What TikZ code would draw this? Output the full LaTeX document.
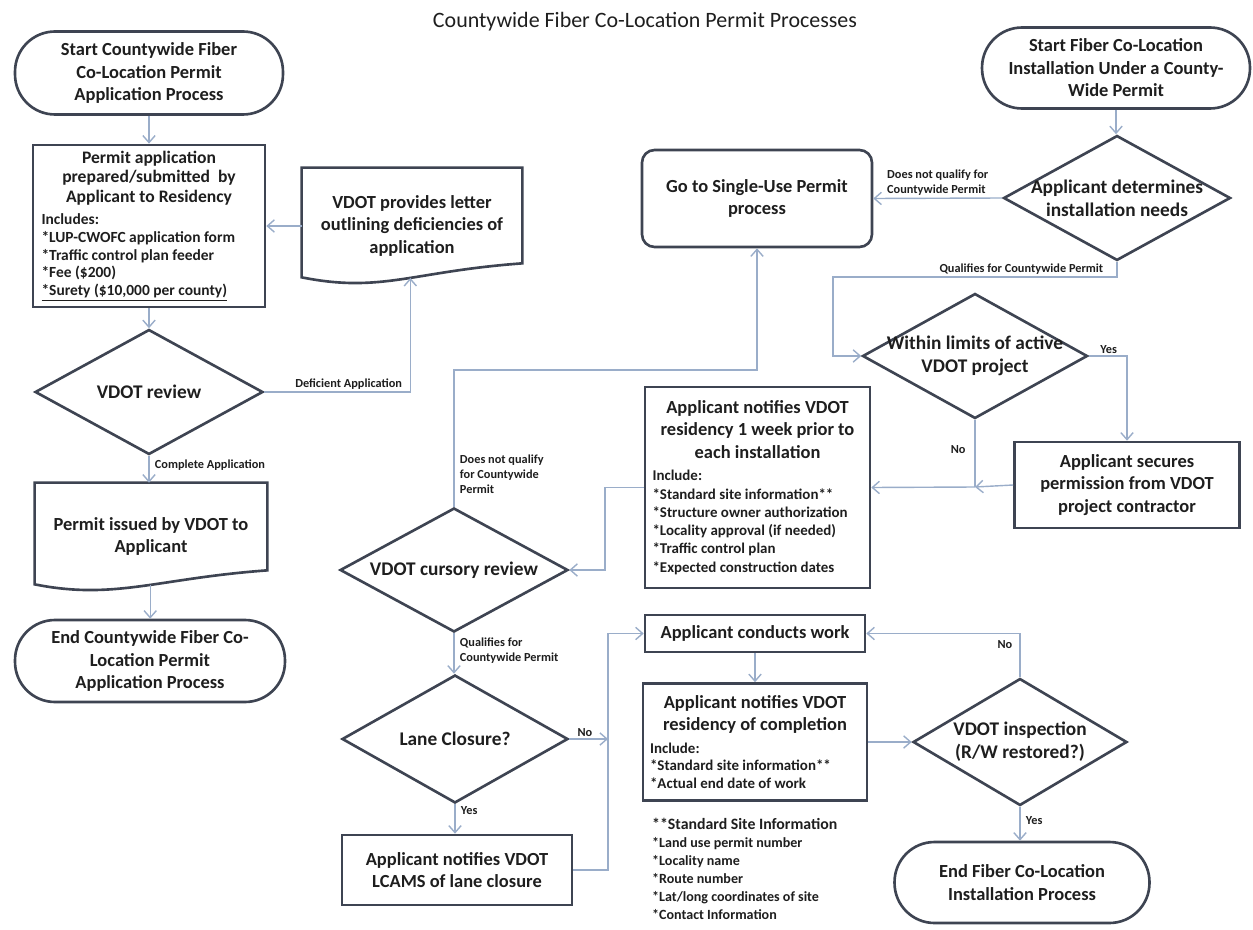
\documentclass[tikz,border=0pt]{standalone}
\usepackage{fontspec}
\setmainfont{Carlito}
\usepackage{tikz}
\usepackage{xcolor}
\usetikzlibrary{shapes.geometric,arrows.meta}

\definecolor{shapeline}{HTML}{3E4452}
\definecolor{linkline}{HTML}{9AADC9}
\definecolor{inktext}{HTML}{1E1E1E}

\newcommand{\docwave}[1]{%
  \draw[shapeline,line width=1.5pt] (#1.north west) -- (#1.north east)
    -- ([yshift=0.4cm]#1.south east)
    .. controls +(-110,8) and +(80,16) .. ([yshift=0.12cm]#1.south west)
    coordinate[pos=0.45] (#1w) -- cycle;}

\begin{document}
\begin{tikzpicture}[x=0.02cm,y=-0.02cm]
\tikzstyle{every node}+=[text=inktext]
\tikzstyle{term}=[draw=shapeline,line width=1.5pt,rounded corners=0.8cm,align=center,font=\bfseries\fontsize{10.5}{12.8}\selectfont]
\tikzstyle{procbox}=[draw=shapeline,line width=1.5pt,align=center,font=\bfseries\fontsize{10.5}{12.8}\selectfont]
\tikzstyle{listbox}=[procbox,align=flush center]
\tikzstyle{docbox}=[align=center,inner sep=0pt,font=\bfseries\fontsize{10.5}{12.8}\selectfont]
\tikzstyle{decision}=[diamond,draw=shapeline,line width=1.5pt,inner sep=0pt]
\tikzstyle{dectext}=[align=center,font=\bfseries\fontsize{11}{13.2}\selectfont]
\tikzstyle{link}=[draw=linkline,line width=0.8pt]
\tikzstyle{flow}=[link,-{Straight Barb[length=4pt,width=7pt]}]
\tikzstyle{lbl}=[font=\bfseries\fontsize{7}{8.5}\selectfont,inner sep=1pt]

\useasboundingbox (0,0) rectangle (1253,929);

\node[font=\fontsize{12.5}{15}\selectfont] (title) at (645,22) {Countywide Fiber Co-Location Permit Processes};

\node[term,minimum width=5.36cm,minimum height=1.66cm] (startapp) at (149,73) {Start Countywide Fiber\\Co-Location Permit\\Application Process};
\node[listbox,minimum width=4.64cm,minimum height=3.2cm,text width=4.3cm] (apply) at (149,226) {\spaceskip=0pt\xspaceskip=0pt\fontsize{10}{11.2}\selectfont Permit application\\prepared/submitted~~by\\Applicant to Residency\\ \parbox[t]{4.3cm}{\fontsize{8.8}{10}\selectfont\raggedright Includes:\\{*}LUP-CWOFC application form\\{*}Traffic control plan feeder\\{*}Fee (\$200)\\\underline{*Surety (\$10,000 per county)}}};
\node[docbox,minimum width=4.4cm,minimum height=2.3cm] (letter) at (412,225.5) {VDOT provides letter\\outlining deficiencies of\\application};
\docwave{letter}
\node[decision,minimum width=4.56cm,minimum height=2.5cm,label={[dectext]center:VDOT review}] (review) at (149,392) {};
\node[docbox,minimum width=4.64cm,minimum height=2.14cm] (issued) at (151,536.5) {Permit issued by VDOT to\\Applicant};
\docwave{issued}
\node[term,minimum width=5.4cm,minimum height=1.64cm] (endapp) at (150,661) {End Countywide Fiber Co-\\Location Permit\\Application Process};

\node[term,minimum width=5.36cm,minimum height=1.62cm] (startinst) at (1116,68) {Start Fiber Co-Location\\Installation Under a County-\\Wide Permit};
\node[decision,minimum width=4.54cm,minimum height=2.5cm,label={[dectext]center:{Applicant determines\\installation needs}}] (needs) at (1117,198) {};
\node[procbox,rounded corners=0.25cm,minimum width=4.6cm,minimum height=1.94cm] (single) at (757,198.5) {Go to Single-Use Permit\\process};
\node[decision,minimum width=4.5cm,minimum height=2.5cm,label={[dectext]center:{Within limits of active\\VDOT project}}] (limits) at (975,356) {};
\node[procbox,minimum width=4.5cm,minimum height=1.72cm] (secure) at (1127,485) {Applicant secures\\permission from VDOT\\project contractor};
\node[listbox,minimum width=4.5cm,minimum height=4.02cm,text width=4.2cm] (notify) at (757.5,487.5) {\spaceskip=0pt\xspaceskip=0pt Applicant notifies VDOT\\residency 1 week prior to\\each installation\\ \parbox[t]{4.2cm}{\fontsize{8.5}{10.4}\selectfont\raggedright Include:\\{*}Standard site information**\\{*}Structure owner authorization\\{*}Locality approval (if needed)\\{*}Traffic control plan\\{*}Expected construction dates}};
\node[decision,minimum width=4.56cm,minimum height=2.48cm,label={[dectext]center:VDOT cursory review}] (cursory) at (454,570) {};
\node[decision,minimum width=4.52cm,minimum height=2.56cm,label={[dectext]center:Lane Closure?}] (lane) at (455,739) {};
\node[procbox,minimum width=4.6cm,minimum height=1.4cm] (lcams) at (457,870) {Applicant notifies VDOT\\LCAMS of lane closure};
\node[procbox,minimum width=4.4cm,minimum height=0.74cm] (conducts) at (755,633.5) {Applicant conducts work};
\node[listbox,minimum width=4.48cm,minimum height=2.34cm,text width=4.2cm] (done) at (755,742) {\spaceskip=0pt\xspaceskip=0pt Applicant notifies VDOT\\residency of completion\\ \parbox[t]{4.2cm}{\fontsize{8.5}{10.2}\selectfont\raggedright Include:\\{*}Standard site information**\\{*}Actual end date of work}};
\node[decision,minimum width=4.28cm,minimum height=2.54cm,label={[dectext]center:{VDOT inspection\\(R/W restored?)}}] (inspect) at (1020,742) {};
\node[term,minimum width=5.1cm,minimum height=1.62cm] (endinst) at (1022,882.5) {End Fiber Co-Location\\Installation Process};
\node[anchor=north west,align=left,font=\bfseries\fontsize{8}{10.2}\selectfont] (siteinfo) at (646,812) {{\fontsize{9}{10.2}\selectfont **Standard Site Information}\\*Land use permit number\\*Locality name\\*Route number\\*Lat/long coordinates of site\\*Contact Information};

\coordinate (qbend) at (833,277);
\coordinate (jn) at (975,487);
\coordinate (nbend) at (605,487.5);
\coordinate (ubend) at (757,370);
\coordinate (wjn) at (608,739);

\draw[flow] (startapp.south) -- (apply.north);
\draw[flow] (apply.south) -- (review.north);
\draw[flow] (review.east) -| node[lbl,pos=0.48,anchor=south east]{Deficient Application} (letterw);
\draw[flow] (letter.west |- apply.east) -- (apply.east);
\draw[flow] (review.south) -- node[lbl,pos=0.35,anchor=west,xshift=2pt]{Complete Application} (review.south |- issued.north);
\draw[flow] (issuedw) -- (issuedw |- endapp.north);

\draw[flow] (startinst.south) -- (startinst.south |- needs.north);
\draw[flow] (needs.west) -- node[lbl,above,align=left]{Does not qualify for\\Countywide Permit} (single.east);
\draw[flow] (needs.south) |- node[lbl,pos=0.52,anchor=south east]{Qualifies for Countywide Permit} (qbend) |- (limits.west);
\draw[flow] (limits.east) -| node[lbl,pos=0.12,anchor=south west]{Yes} (secure.north);
\draw[link] (limits.south) -- node[lbl,pos=0.45,anchor=east,xshift=-4pt]{No} (jn);
\draw[flow] (jn) -- (notify.east);
\draw[flow] (secure.west) -- (jn);
\draw[flow] (notify.west) -- (nbend) |- (cursory.east);
\draw[flow] (cursory.north) |- node[lbl,pos=0.04,anchor=south west,align=left,xshift=2pt]{Does not qualify\\for Countywide\\Permit} (ubend) -- (single.south);
\draw[flow] (cursory.south) -- node[lbl,pos=0.05,anchor=north west,align=left,xshift=2pt]{Qualifies for\\Countywide Permit} (cursory.south |- lane.north);
\draw[flow] (lane.east) -- node[lbl,pos=0.15,anchor=south west]{No} (wjn);
\draw[flow] (lane.south) -- node[lbl,pos=0.2,anchor=west,xshift=2pt]{Yes} (lane.south |- lcams.north);
\draw[flow] (lcams.east) -| (wjn) |- (conducts.west);
\draw[flow] (conducts.south) -- (done.north);
\draw[flow] (done.east) -- (inspect.west);
\draw[flow] (inspect.north) |- node[lbl,pos=0.37,anchor=east,xshift=-3pt]{No} (conducts.east);
\draw[flow] (inspect.south) -- node[lbl,pos=0.4,anchor=west,xshift=2pt]{Yes} (inspect.south |- endinst.north);
\end{tikzpicture}
\end{document}
